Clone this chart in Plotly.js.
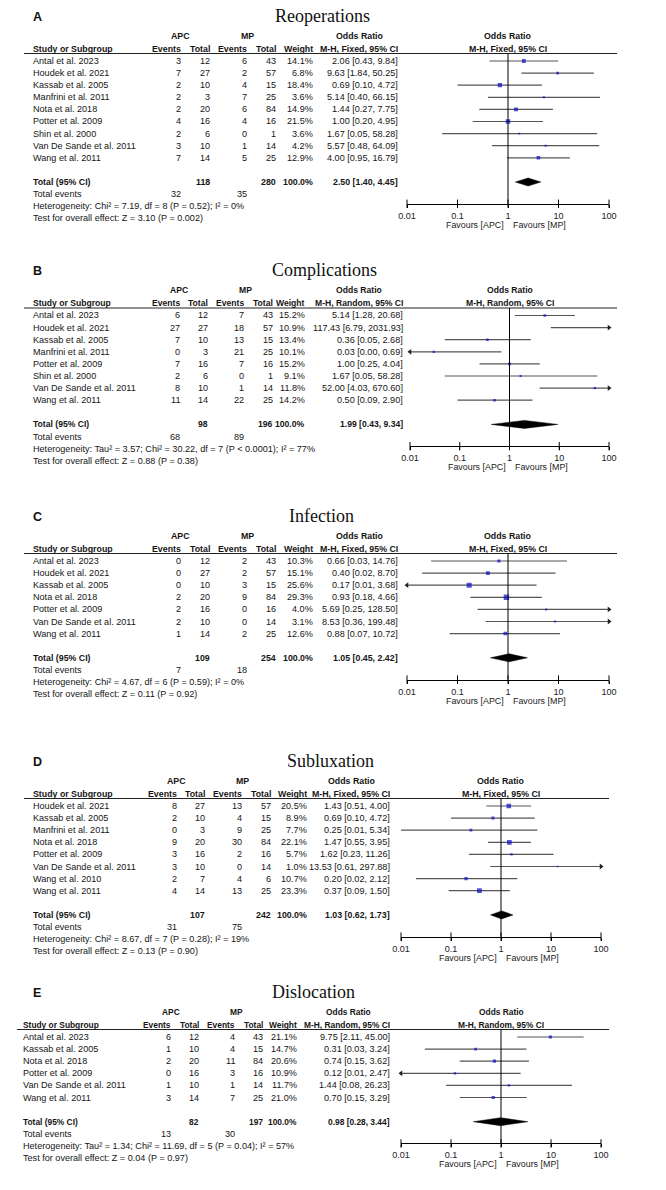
<!DOCTYPE html>
<html><head><meta charset="utf-8">
<script src="https://cdn.plot.ly/plotly-3.0.1.min.js"></script>
<style>html,body{margin:0;padding:0;background:#fff}#chart{width:666px;height:1190px}</style>
</head><body><div id="chart"></div>
<script>
// ---------- shared ----------
const tickVals = [0.01, 0.1, 1, 10, 100];
const tickText = ['0.01', '0.1', '1', '10', '100'];

// ---------- A: Reoperations ----------
const aStudies = ['Antal et al. 2023','Houdek et al. 2021','Kassab et al. 2005','Manfrini et al. 2011','Nota et al. 2018','Potter et al. 2009','Shin et al. 2000','Van De Sande et al. 2011','Wang et al. 2011'];
const aApcEv  = [3,7,2,2,2,4,2,3,7];
const aApcTot = [12,27,10,3,20,16,6,10,14];
const aMpEv   = [6,2,4,7,6,4,0,1,5];
const aMpTot  = [43,57,15,25,84,16,1,14,25];
const aWeight = [14.1,6.8,18.4,3.6,14.9,21.5,3.6,4.2,12.9];
const aOR     = [2.06,9.63,0.69,5.14,1.44,1.00,1.67,5.57,4.00];
const aLo     = [0.43,1.84,0.10,0.40,0.27,0.20,0.05,0.48,0.95];
const aHi     = [9.84,50.25,4.72,66.15,7.75,4.95,58.28,64.09,16.79];
const aArrow  = ['','','','','','','','',''];
const aTotals = [118,280];
const aEvents = [32,35];
const aPooled = [2.50,1.40,4.45];
const aHet  = 'Heterogeneity: Chi² = 7.19, df = 8 (P = 0.52); I² = 0%';
const aTest = 'Test for overall effect: Z = 3.10 (P = 0.002)';

// ---------- B: Complications ----------
const bStudies = ['Antal et al. 2023','Houdek et al. 2021','Kassab et al. 2005','Manfrini et al. 2011','Potter et al. 2009','Shin et al. 2000','Van De Sande et al. 2011','Wang et al. 2011'];
const bApcEv  = [6,27,7,0,7,2,8,11];
const bApcTot = [12,27,10,3,16,6,10,14];
const bMpEv   = [7,18,13,21,7,0,1,22];
const bMpTot  = [43,57,15,25,16,1,14,25];
const bWeight = [15.2,10.9,13.4,10.1,15.2,9.1,11.8,14.2];
const bOR     = [5.14,117.43,0.36,0.03,1.00,1.67,52.00,0.50];
const bLo     = [1.28,6.79,0.05,0.00,0.25,0.05,4.03,0.09];
const bHi     = [20.68,2031.93,2.68,0.69,4.04,58.28,670.60,2.90];
const bArrow  = ['','R','','L','','','R',''];
const bTotals = [98,196];
const bEvents = [68,89];
const bPooled = [1.99,0.43,9.34];
const bHet  = 'Heterogeneity: Tau² = 3.57; Chi² = 30.22, df = 7 (P &lt; 0.0001); I² = 77%';
const bTest = 'Test for overall effect: Z = 0.88 (P = 0.38)';

// ---------- C: Infection ----------
const cStudies = ['Antal et al. 2023','Houdek et al. 2021','Kassab et al. 2005','Nota et al. 2018','Potter et al. 2009','Van De Sande et al. 2011','Wang et al. 2011'];
const cApcEv  = [0,0,0,2,2,2,1];
const cApcTot = [12,27,10,20,16,10,14];
const cMpEv   = [2,2,3,9,0,0,2];
const cMpTot  = [43,57,15,84,16,14,25];
const cWeight = [10.3,15.1,25.6,29.3,4.0,3.1,12.6];
const cOR     = [0.66,0.40,0.17,0.93,5.69,8.53,0.88];
const cLo     = [0.03,0.02,0.01,0.18,0.25,0.36,0.07];
const cHi     = [14.76,8.70,3.68,4.66,128.50,199.48,10.72];
const cArrow  = ['','','L','','R','R',''];
const cTotals = [109,254];
const cEvents = [7,18];
const cPooled = [1.05,0.45,2.42];
const cHet  = 'Heterogeneity: Chi² = 4.67, df = 6 (P = 0.59); I² = 0%';
const cTest = 'Test for overall effect: Z = 0.11 (P = 0.92)';

// ---------- D: Subluxation ----------
const dStudies = ['Houdek et al. 2021','Kassab et al. 2005','Manfrini et al. 2011','Nota et al. 2018','Potter et al. 2009','Van De Sande et al. 2011','Wang et al. 2010','Wang et al. 2011'];
const dApcEv  = [8,2,0,9,3,3,2,4];
const dApcTot = [27,10,3,20,16,10,7,14];
const dMpEv   = [13,4,9,30,2,0,4,13];
const dMpTot  = [57,15,25,84,16,14,6,25];
const dWeight = [20.5,8.9,7.7,22.1,5.7,1.0,10.7,23.3];
const dOR     = [1.43,0.69,0.25,1.47,1.62,13.53,0.20,0.37];
const dLo     = [0.51,0.10,0.01,0.55,0.23,0.61,0.02,0.09];
const dHi     = [4.00,4.72,5.34,3.95,11.26,297.88,2.12,1.50];
const dArrow  = ['','','','','','R','',''];
const dTotals = [107,242];
const dEvents = [31,75];
const dPooled = [1.03,0.62,1.73];
const dHet  = 'Heterogeneity: Chi² = 8.67, df = 7 (P = 0.28); I² = 19%';
const dTest = 'Test for overall effect: Z = 0.13 (P = 0.90)';

// ---------- E: Dislocation ----------
const eStudies = ['Antal et al. 2023','Kassab et al. 2005','Nota et al. 2018','Potter et al. 2009','Van De Sande et al. 2011','Wang et al. 2011'];
const eApcEv  = [6,1,2,0,1,3];
const eApcTot = [12,10,20,16,10,14];
const eMpEv   = [4,4,11,3,1,7];
const eMpTot  = [43,15,84,16,14,25];
const eWeight = [21.1,14.7,20.6,10.9,11.7,21.0];
const eOR     = [9.75,0.31,0.74,0.12,1.44,0.70];
const eLo     = [2.11,0.03,0.15,0.01,0.08,0.15];
const eHi     = [45.00,3.24,3.62,2.47,26.23,3.29];
const eArrow  = ['','','','L','',''];
const eTotals = [82,197];
const eEvents = [13,30];
const ePooled = [0.98,0.28,3.44];
const eHet  = 'Heterogeneity: Tau² = 1.34; Chi² = 11.69, df = 5 (P = 0.04); I² = 57%';
const eTest = 'Test for overall effect: Z = 0.04 (P = 0.97)';

// ---------- panel assembly (positions/styles only) ----------
const panels = [
  {letter:'A', title:'Reoperations', method:'M-H, Fixed, 95% CI', st:aStudies, ae:aApcEv, at:aApcTot, me:aMpEv, mt:aMpTot, w:aWeight, or:aOR, lo:aLo, hi:aHi, ar:aArrow, tot:aTotals, ev:aEvents, pool:aPooled, het:aHet, test:aTest,
   row0:61, L:32, lineL:24, cols:[182,211,248,277,314,399], hx:[180,247,360], fb:8.8, fx:[407,609], tx:322, sq:1.0},
  {letter:'B', title:'Complications', method:'M-H, Random, 95% CI', st:bStudies, ae:bApcEv, at:bApcTot, me:bMpEv, mt:bMpTot, w:bWeight, or:bOR, lo:bLo, hi:bHi, ar:bArrow, tot:bTotals, ev:bEvents, pool:bPooled, het:bHet, test:bTest,
   row0:315.5, L:32, lineL:24, cols:[181,209,245,274,306,404], hx:[179,245,359], fb:8.6, fx:[410,609], tx:324, sq:0.7},
  {letter:'C', title:'Infection', method:'M-H, Fixed, 95% CI', st:cStudies, ae:cApcEv, at:cApcTot, me:cMpEv, mt:cMpTot, w:cWeight, or:cOR, lo:cLo, hi:cHi, ar:cArrow, tot:cTotals, ev:cEvents, pool:cPooled, het:cHet, test:cTest,
   row0:561, L:32, lineL:24, cols:[182,211,248,277,314,399], hx:[180,247,360], fb:8.8, fx:[407,609], tx:321, sq:1.0},
  {letter:'D', title:'Subluxation', method:'M-H, Fixed, 95% CI', st:dStudies, ae:dApcEv, at:dApcTot, me:dMpEv, mt:dMpTot, w:dWeight, or:dOR, lo:dLo, hi:dHi, ar:dArrow, tot:dTotals, ev:dEvents, pool:dPooled, het:dHet, test:dTest,
   row0:806, L:32, lineL:24, cols:[178,206,243,272,308,391], hx:[176,242,352], fb:8.8, fx:[401,601], tx:330, sq:1.0},
  {letter:'E', title:'Dislocation', method:'M-H, Random, 95% CI', st:eStudies, ae:eApcEv, at:eApcTot, me:eMpEv, mt:eMpTot, w:eWeight, or:eOR, lo:eLo, hi:eHi, ar:eArrow, tot:eTotals, ev:eEvents, pool:ePooled, het:eHet, test:eTest,
   row0:1037, L:22, lineL:17, cols:[172,200,236,264,298,391], hx:[171,236,348], fb:8.4, fx:[401,601], tx:313, sq:0.7}
];

const W = 666, H = 1190, RS = 12.1;
const FONT = 'Liberation Sans, Arial, sans-serif';
const SERIF = 'Liberation Serif, Times New Roman, serif';
const FS = 9.1;
const TXT = '#151515';
const annotations = [], shapes = [], traces = [];
const layout = {width: W, height: H, margin:{l:0,r:0,t:0,b:0}, paper_bgcolor:'#fff', plot_bgcolor:'rgba(0,0,0,0)', showlegend:false, annotations, shapes};

function txt(text, xpx, ypx, anchor, opt) {
  opt = opt || {};
  annotations.push({xref:'paper', yref:'paper', x:xpx / W, y:1 - ypx / H, text:String(text), showarrow:false,
    xanchor:anchor, yanchor:'middle', borderpad:0,
    font:{family:opt.family || FONT, size:opt.size || FS, color:opt.color || TXT}});
}
const f2 = v => v.toFixed(2);
const ciText = (o, l, h) => f2(o) + ' [' + f2(l) + ', ' + f2(h) + ']';

panels.forEach((P, k) => {
  const id = k === 0 ? '' : String(k + 1);
  const xa = 'x' + id, ya = 'y' + id;
  const n = P.st.length;
  const rowPx = r => P.row0 + r * RS;
  const topRow = -7.5 / RS, botRow = n + 2.8;
  const yTopPx = rowPx(topRow), yBotPx = rowPx(botRow);
  const fMid = (P.fx[0] + P.fx[1]) / 2;
  const btxt = (t, x, y, a) => txt('<b>' + t + '</b>', x, y, a, {size:P.fb});

  layout['xaxis' + id] = {type:'log', range:[-2, 2], domain:[P.fx[0] / W, P.fx[1] / W], anchor:ya,
    showline:true, linecolor:'#000', linewidth:1, ticks:'outside', ticklen:3, tickwidth:1, tickcolor:'#000',
    tickvals:tickVals, ticktext:tickText, tickfont:{family:FONT, size:FS, color:'#222'},
    showgrid:false, zeroline:false, fixedrange:true};
  layout['yaxis' + id] = {range:[botRow, topRow], domain:[1 - yBotPx / H, 1 - yTopPx / H], anchor:xa,
    visible:false, showgrid:false, zeroline:false, fixedrange:true};

  const [C1, C2, C3, C4, C5, C6] = P.cols;

  // panel letter and title
  txt('<b>' + P.letter + '</b>', P.L + (P.letter === 'E' ? 10 : 0), P.row0 - 44, 'left', {size:12.5, color:'#111'});
  txt(P.title, P.tx, P.row0 - 45, 'center', {family:SERIF, size:18, color:'#111'});

  // headers
  const h1 = rowPx(-2.1), h2 = rowPx(-1.03);
  btxt('APC', P.hx[0], h1, 'center');
  btxt('MP', P.hx[1], h1, 'center');
  btxt('Odds Ratio', P.hx[2], h1, 'center');
  btxt('Odds Ratio', fMid, h1, 'center');
  btxt('Study or Subgroup', P.L, h2, 'left');
  btxt('Events', C1, h2, 'right');
  btxt('Total', C2, h2, 'right');
  btxt('Events', C3, h2, 'right');
  btxt('Total', C4, h2, 'right');
  btxt('Weight', C5, h2, 'right');
  btxt(P.method, C6, h2, 'right');
  btxt(P.method, fMid, h2, 'center');

  // header rule
  shapes.push({type:'line', xref:'paper', yref:'paper', x0:P.lineL / W, x1:(P.fx[1] + 8) / W,
    y0:1 - yTopPx / H, y1:1 - yTopPx / H, line:{color:'#222', width:1}});
  // line of no effect
  shapes.push({type:'line', xref:xa, yref:ya + ' domain', x0:1, x1:1, y0:0, y1:1, line:{color:'#000', width:1}});

  // study rows
  P.st.forEach((s, i) => {
    const y = rowPx(i);
    txt(s, P.L, y, 'left');
    txt(P.ae[i], C1, y, 'right');
    txt(P.at[i], C2, y, 'right');
    txt(P.me[i], C3, y, 'right');
    txt(P.mt[i], C4, y, 'right');
    txt(P.w[i].toFixed(1) + '%', C5, y, 'right');
    txt(ciText(P.or[i], P.lo[i], P.hi[i]), C6, y, 'right');
  });

  // total rows
  const tr = n + 1;
  btxt('Total (95% CI)', P.L, rowPx(tr), 'left');
  btxt(P.tot[0], C2, rowPx(tr), 'right');
  btxt(P.tot[1], C4, rowPx(tr), 'right');
  btxt('100.0%', C5, rowPx(tr), 'right');
  btxt(ciText(P.pool[0], P.pool[1], P.pool[2]), C6, rowPx(tr), 'right');
  txt('Total events', P.L, rowPx(tr + 1), 'left');
  txt(P.ev[0], C1, rowPx(tr + 1), 'right');
  txt(P.ev[1], C3, rowPx(tr + 1), 'right');
  txt(P.het, P.L, rowPx(tr + 2), 'left');
  txt(P.test, P.L, rowPx(tr + 3), 'left');

  // favours labels
  txt('Favours [APC]', fMid - 3, yBotPx + 21, 'right', {color:'#222', size:8.9});
  txt('Favours [MP]', fMid + 4, yBotPx + 21, 'left', {color:'#222', size:8.9});

  // CI lines
  const lx = [], ly = [];
  P.st.forEach((s, i) => {
    lx.push(Math.max(P.lo[i], 0.01), Math.min(P.hi[i], 100), null);
    ly.push(i, i, null);
  });
  traces.push({type:'scatter', mode:'lines', x:lx, y:ly, xaxis:xa, yaxis:ya, hoverinfo:'skip',
    line:{color:'#555', width:1.2}});

  // arrows for clipped intervals
  const axx = [], axy = [], axs = [];
  P.ar.forEach((a, i) => {
    if (a === 'L') { axx.push(0.01); axy.push(i); axs.push('triangle-left'); }
    if (a === 'R') { axx.push(100); axy.push(i); axs.push('triangle-right'); }
  });
  if (axx.length) traces.push({type:'scatter', mode:'markers', x:axx, y:axy, xaxis:xa, yaxis:ya, hoverinfo:'skip',
    cliponaxis:false, marker:{symbol:axs, size:5, color:'#222', line:{width:0}}});

  // squares (size by weight)
  traces.push({type:'scatter', mode:'markers', x:P.or, y:P.st.map((s, i) => i), xaxis:xa, yaxis:ya, hoverinfo:'skip',
    marker:{symbol:'square', color:'#0a0acc', size:P.w.map(w => Math.max(1.6, P.sq * Math.sqrt(w))), line:{width:0}}});

  // pooled diamond
  const dh = 4 / RS;
  traces.push({type:'scatter', mode:'lines', fill:'toself', fillcolor:'#000',
    x:[P.pool[1], P.pool[0], P.pool[2], P.pool[0], P.pool[1]],
    y:[tr, tr - dh, tr, tr + dh, tr], xaxis:xa, yaxis:ya, hoverinfo:'skip', line:{color:'#000', width:0.5}});

  // upward part of tick marks
  traces.push({type:'scatter', mode:'markers', x:tickVals, y:tickVals.map(() => botRow), xaxis:xa, yaxis:ya,
    hoverinfo:'skip', cliponaxis:false, marker:{symbol:'line-ns-open', size:6, color:'#000', line:{color:'#000', width:1}}});
});

Plotly.newPlot('chart', traces, layout, {staticPlot:true, displayModeBar:false});
</script>
</body></html>
